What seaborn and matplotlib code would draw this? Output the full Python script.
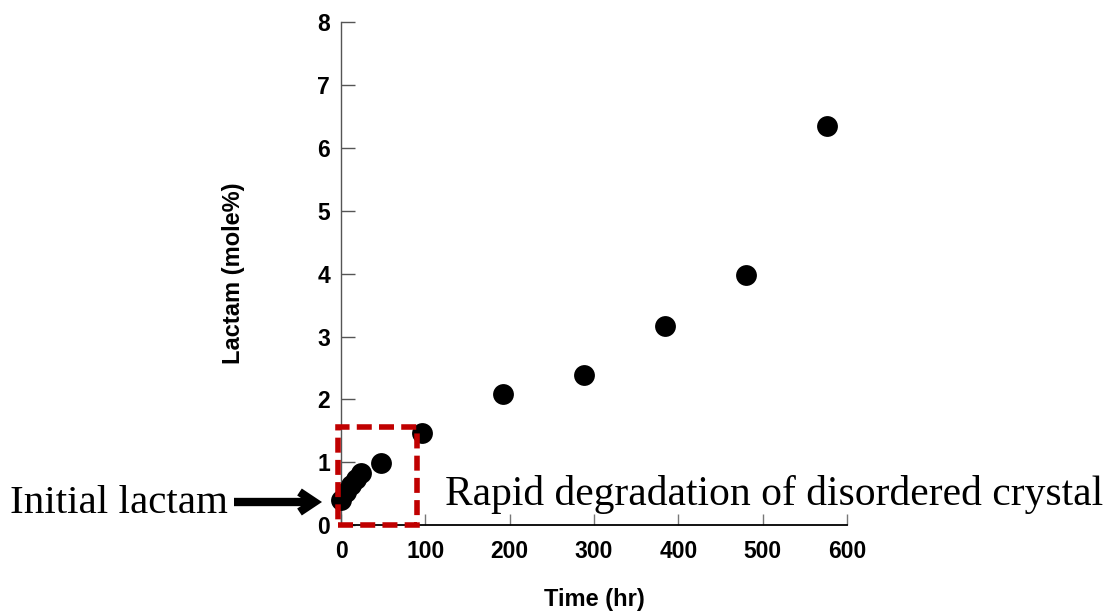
import matplotlib
matplotlib.use("Agg")
import matplotlib.pyplot as plt
from matplotlib.patches import Rectangle
import seaborn as sns
import pandas as pd

# Data
time_hr = [0, 6, 12, 18, 24, 48, 96, 192, 288, 384, 480, 576]
lactam = [0.40, 0.52, 0.63, 0.73, 0.82, 0.98, 1.46, 2.09, 2.38, 3.17, 3.98, 6.35]
x_ticks = [0, 100, 200, 300, 400, 500, 600]
y_ticks = [0, 1, 2, 3, 4, 5, 6, 7, 8]

df = pd.DataFrame({"Time (hr)": time_hr, "Lactam (mole%)": lactam})

sns.set_theme(style="white")
plt.rcParams["font.family"] = ["Liberation Sans", "DejaVu Sans"]
plt.rcParams["text.color"] = "black"
plt.rcParams["axes.labelcolor"] = "black"
plt.rcParams["xtick.labelcolor"] = "black"
plt.rcParams["ytick.labelcolor"] = "black"

fig = plt.figure(figsize=(11.12, 6.11), dpi=100)
ax = fig.add_axes([341 / 1112, (611 - 525) / 611, (847 - 341) / 1112, (525 - 22.4) / 611])

sns.scatterplot(data=df, x="Time (hr)", y="Lactam (mole%)", ax=ax,
                s=225, color="black", edgecolor="black", linewidth=0, zorder=3,
                clip_on=False)

ax.set_xlim(0, 600)
ax.set_ylim(0, 8)
ax.set_xticks(x_ticks)
ax.set_yticks(y_ticks)
ax.set_xticklabels([str(v) for v in x_ticks], fontsize=16.5, fontweight="bold", color="black")
ax.set_yticklabels([str(v) for v in y_ticks], fontsize=16.5, fontweight="bold", color="black")

for s in ["top", "right"]:
    ax.spines[s].set_visible(False)
ax.spines["left"].set_color("#555555")
ax.spines["left"].set_linewidth(1.0)
ax.spines["bottom"].set_color("black")
ax.spines["bottom"].set_linewidth(1.3)

ax.tick_params(axis="y", direction="in", length=10, width=1.0, color="#555555", pad=8, left=True)
ax.tick_params(axis="x", direction="in", length=8, width=1.0, color="#777777", pad=11, bottom=True)

ax.set_xlabel("Time (hr)", fontsize=17, fontweight="bold", color="black")
ax.set_ylabel("Lactam (mole%)", fontsize=17, fontweight="bold", color="black")
ax.xaxis.set_label_coords(0.5, -0.125)
ax.yaxis.set_label_coords(-0.19, 0.5)

# Dashed red box
rect = Rectangle((-3.5, 0.0), 93.5, 1.56, fill=False, edgecolor="#C00000",
                 linewidth=4, linestyle=(0, (2.7, 1.3)), clip_on=False, zorder=5)
ax.add_patch(rect)

# Annotations
serif = ["Liberation Serif", "DejaVu Serif"]
fig.text(10 / 1112, (611 - 513) / 611, "Initial lactam", family=serif, fontsize=29.5,
         ha="left", va="baseline", color="black")
fig.text(445 / 1112, (611 - 505) / 611, "Rapid degradation of disordered crystal",
         family=serif, fontsize=29.9, ha="left", va="baseline", color="black")

ax.annotate("", xy=(322 / 1112, (611 - 502) / 611), xycoords="figure fraction",
            xytext=(234 / 1112, (611 - 502) / 611), textcoords="figure fraction",
            arrowprops=dict(arrowstyle="->, head_length=0.9, head_width=0.6",
                            lw=6, color="black", shrinkA=0, shrinkB=0,
                            joinstyle="miter", capstyle="butt"),
            annotation_clip=False)

fig.savefig("out.png", dpi=100)
